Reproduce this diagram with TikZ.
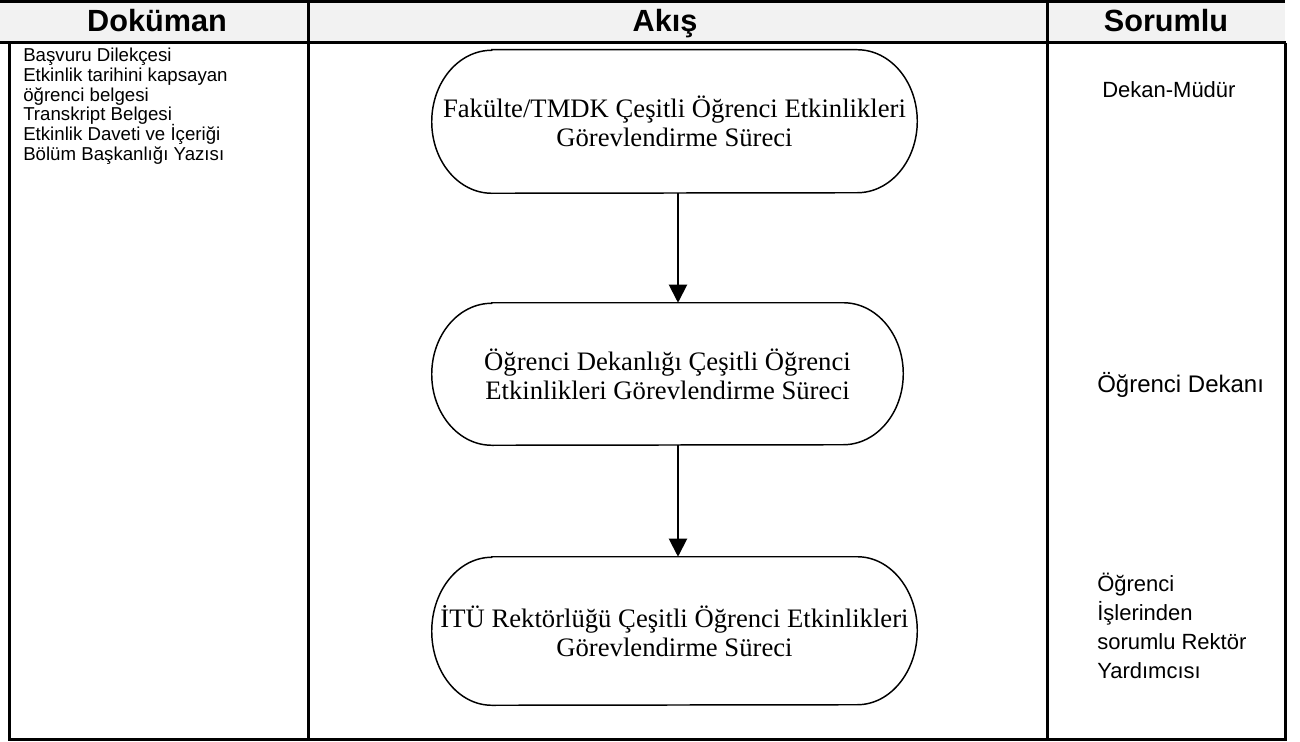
\documentclass[tikz,border=0pt]{standalone}
\usepackage{fontspec}
\setmainfont{Liberation Sans}
\newfontfamily\timesf{Liberation Serif}
\usetikzlibrary{arrows.meta}
\definecolor{hdrgray}{HTML}{F2F2F2}
\lineskiplimit=-30pt
\newcommand\termoutline[2]{%
  \draw[ovalline] ([xshift=45pt]#1.north west) -- ([xshift=-45pt]#1.north east)
    arc[start angle=90,end angle=-90,x radius=45pt,y radius=#2]
    -- ([xshift=45pt]#1.south west)
    arc[start angle=270,end angle=90,x radius=45pt,y radius=#2] -- cycle;}
\begin{document}
\begin{tikzpicture}[x=0.75pt,y=-0.75pt,
  tline/.style={line width=2.25pt},
  ovalline/.style={line width=1.1pt},
  hdr/.style={font=\fontsize{23}{26}\selectfont\bfseries, inner sep=0, anchor=base},
  doc/.style={font=\fontsize{14}{14.8}\selectfont, align=left, anchor=north west, inner sep=0},
  resp/.style={font=\fontsize{16.5}{21.75}\selectfont, align=left, anchor=west, inner sep=0},
  flow/.style={font=\timesf\fontsize{20}{21.75}\selectfont, align=center, inner sep=0},
  conn/.style={line width=1.5pt, -{Triangle[length=13.5pt,width=13.5pt]}}
]
\useasboundingbox (0,0) rectangle (1300,742);
% header band
\fill[hdrgray] (0,0) rectangle (1285,43);
\draw[tline] (0,1.5) -- (1285,1.5);
\draw[tline] (0,43) -- (1286,43);
\draw[tline, line join=miter] (9,43) -- (9,739) -- (1285,739) -- (1285,43);
\draw[tline] (308,0) -- (308,739);
\draw[tline] (1047,0) -- (1047,739);
% header texts
\node[hdr] (hdoc) at (157,32) {Doküman};
\node[hdr] (hflow) at (665,32) {Akış};
\node[hdr] (hresp) at (1166,32) {Sorumlu};
% documents
\node[doc] (docs) at (23,48) {Başvuru Dilekçesi\\Etkinlik tarihini kapsayan\\öğrenci belgesi\\Transkript Belgesi\\Etkinlik Daveti ve İçeriği\\Bölüm Başkanlığı Yazısı};
% flow
\node[flow, minimum width=363.75pt, minimum height=107.25pt] (o1) at (674.5,121.5) {Fakülte/TMDK Çeşitli Öğrenci Etkinlikleri\\Görevlendirme Süreci};
\node[flow, minimum width=353.25pt, minimum height=106.5pt] (o2) at (667.5,374) {Öğrenci Dekanlığı Çeşitli Öğrenci\\Etkinlikleri Görevlendirme Süreci};
\node[flow, minimum width=363.75pt, minimum height=111pt] (o3) at (674.5,631) {İTÜ Rektörlüğü Çeşitli Öğrenci Etkinlikleri\\Görevlendirme Süreci};
\termoutline{o1}{53.625pt}
\termoutline{o2}{53.25pt}
\termoutline{o3}{55.5pt}
\coordinate (ax) at (678,0);
\draw[conn] (o1.south -| ax) -- (o2.north -| ax);
\draw[conn] (o2.south -| ax) -- (o3.north -| ax);
% responsible
\node[resp] (r1) at (1102,90) {Dekan-Müdür};
\node[resp, font=\fontsize{18}{21.75}\selectfont] (r2) at (1097,385) {Öğrenci Dekanı};
\node[resp] (r3) at (1097,626) {Öğrenci\\İşlerinden\\sorumlu Rektör\\Yardımcısı};
\end{tikzpicture}
\end{document}
